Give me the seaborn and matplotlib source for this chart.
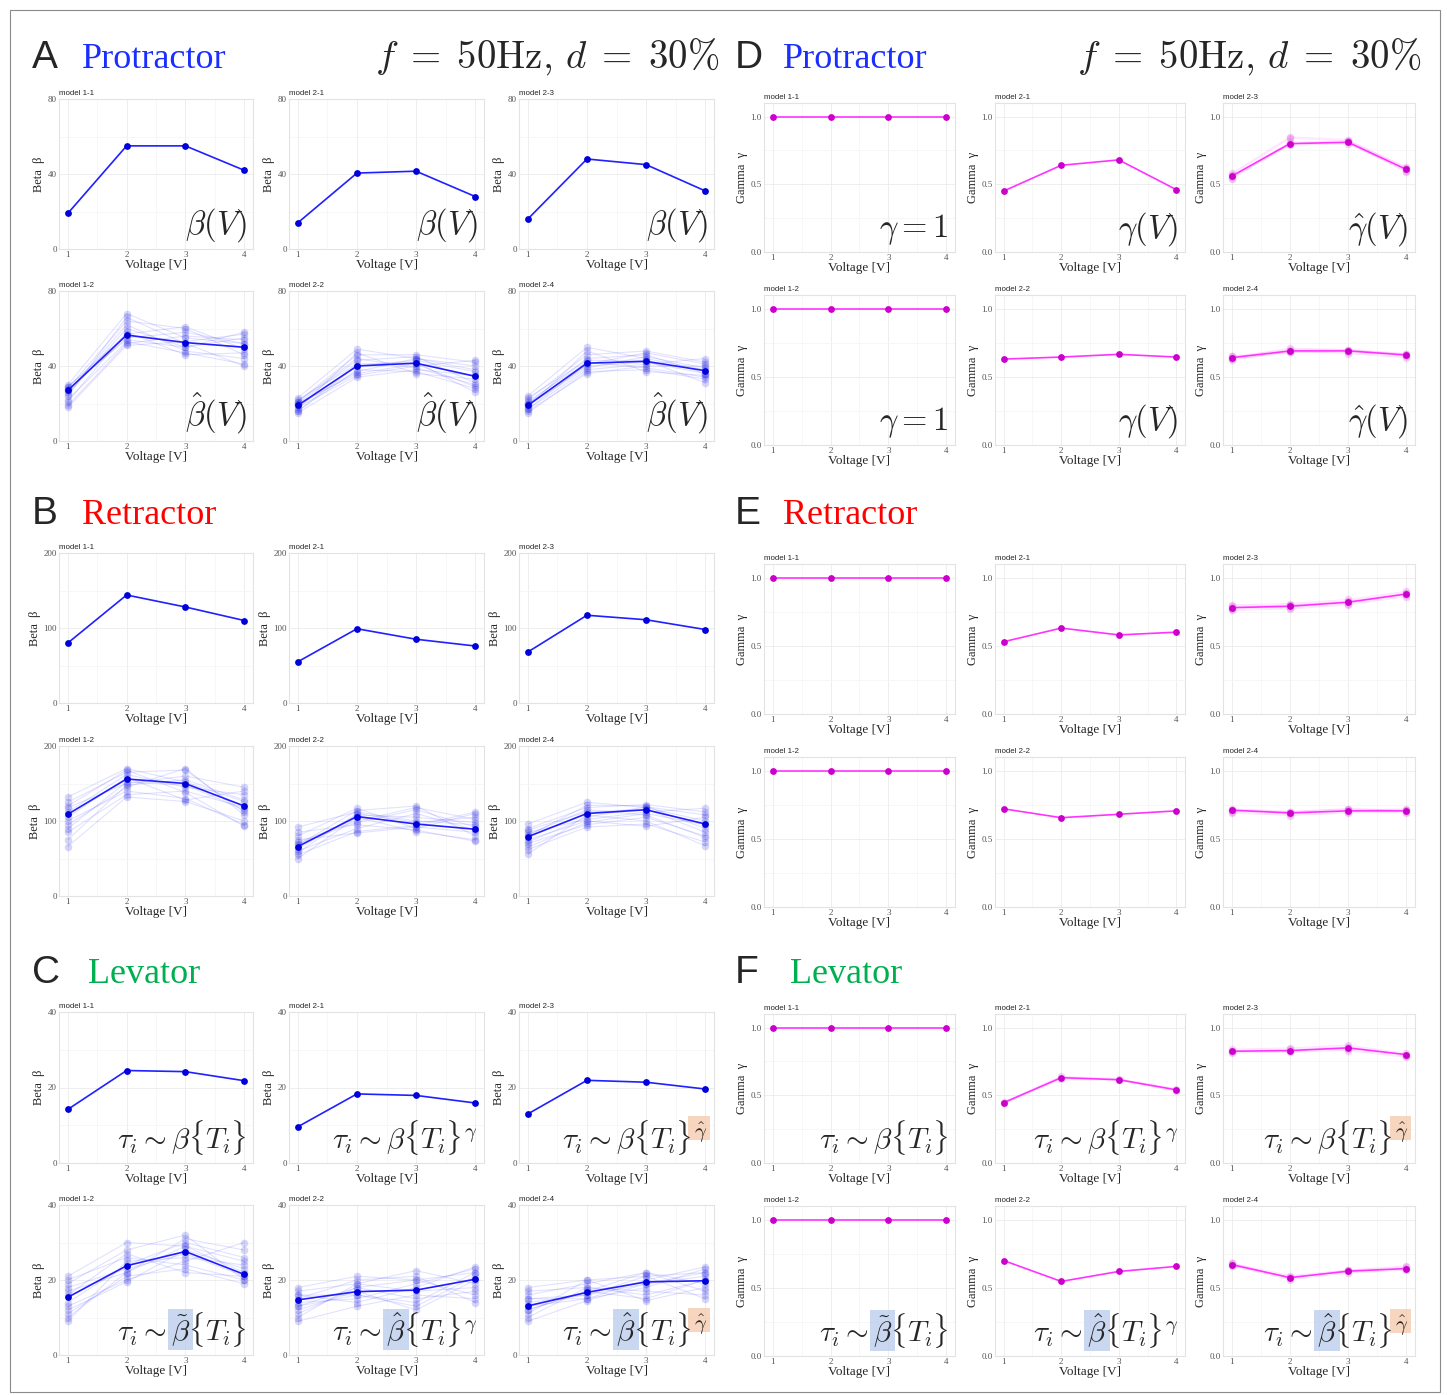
import matplotlib
matplotlib.use('Agg')
import numpy as np
import pandas as pd
import matplotlib.pyplot as plt
import seaborn as sns
from matplotlib.patches import Rectangle

sns.set_theme(style='white')
plt.rcParams['font.family'] = ['Liberation Serif', 'DejaVu Serif']
plt.rcParams['mathtext.fontset'] = 'cm'

voltage = [1, 2, 3, 4]

# ===== Protractor: beta =====
pro_b_11 = [19, 55, 55, 42]
pro_b_21 = [14, 40.5, 41.5, 28]
pro_b_23 = [16, 48, 45, 31]
pro_b_12 = [27, 56.5, 52.5, 50]
pro_b_22 = [19, 40, 41.5, 34.5]
pro_b_24 = [19, 41.5, 42.5, 37.5]
pro_b_12_s = [[30, 68, 55, 52], [28, 64, 60, 46], [25, 60, 50, 58], [22, 53, 47, 41],
              [19, 52, 56, 54], [29, 57, 61, 49], [26, 62, 48, 44], [18, 51, 53, 57],
              [24, 66, 52, 40], [27, 55, 58, 52], [21, 58, 46, 47], [29, 54, 50, 55]]
pro_b_22_s = [[23, 49, 44, 38], [21, 46, 46, 42], [18, 35, 40, 43], [16, 38, 37, 28],
              [20, 43, 45, 31], [15, 34, 38, 35], [22, 41, 42, 26], [17, 47, 36, 33],
              [19, 37, 44, 40], [21, 44, 39, 30], [16, 40, 43, 37], [20, 36, 41, 29]]
pro_b_24_s = [[24, 50, 44, 38], [22, 46, 48, 42], [17, 38, 41, 44], [15, 37, 38, 33],
              [20, 44, 46, 36], [16, 36, 40, 40], [23, 43, 43, 31], [18, 48, 37, 35],
              [19, 39, 45, 39], [21, 42, 39, 34], [17, 41, 47, 41], [20, 40, 42, 36]]

# ===== Retractor: beta =====
ret_b_11 = [80, 144, 128, 110]
ret_b_21 = [55, 99, 85, 76]
ret_b_23 = [68, 117, 111, 98]
ret_b_12 = [109, 156, 150, 120]
ret_b_22 = [66, 106, 96, 89]
ret_b_24 = [79, 110, 115, 96]
ret_b_12_s = [[132, 170, 152, 126], [125, 165, 168, 112], [118, 150, 160, 145], [100, 140, 130, 95],
              [85, 135, 140, 118], [66, 132, 126, 100], [112, 162, 145, 135], [95, 145, 170, 108],
              [120, 168, 138, 93], [75, 148, 155, 128], [105, 158, 128, 140], [90, 152, 148, 115]]
ret_b_22_s = [[92, 112, 100, 95], [80, 117, 90, 110], [72, 100, 118, 102], [60, 90, 110, 88],
              [55, 86, 94, 112], [50, 105, 86, 75], [68, 114, 120, 80], [85, 95, 88, 73],
              [63, 108, 105, 98], [75, 84, 92, 85], [58, 110, 98, 105], [70, 98, 115, 92]]
ret_b_24_s = [[96, 125, 118, 100], [90, 118, 122, 112], [85, 102, 112, 117], [70, 95, 105, 80],
              [62, 92, 96, 72], [56, 108, 100, 67], [80, 121, 120, 90], [75, 100, 93, 105],
              [88, 112, 116, 85], [65, 98, 110, 95], [82, 115, 108, 78], [72, 105, 119, 108]]

# ===== Levator: beta =====
lev_b_11 = [14.2, 24.5, 24.2, 21.8]
lev_b_21 = [9.6, 18.3, 17.9, 15.9]
lev_b_23 = [13, 21.9, 21.4, 19.6]
lev_b_12 = [15.4, 23.8, 27.6, 21.5]
lev_b_22 = [14.7, 16.9, 17.3, 20.2]
lev_b_24 = [13.1, 16.7, 19.5, 19.8]
lev_b_12_s = [[21, 30, 29, 22], [19, 28, 32, 20], [17, 22, 31, 28], [13, 20, 25, 30],
              [11, 21, 23, 19], [9, 25, 26, 24], [16, 27, 22, 21], [14, 24, 30, 26],
              [20, 26, 24, 20], [12, 19.5, 28, 23], [18, 23, 27, 21], [10, 22, 29, 25]]
lev_b_22_s = [[18, 21, 20, 22], [17, 19, 22.5, 19], [16, 14, 18, 23.5], [13, 16, 13, 21],
              [11, 18, 15, 17], [9, 13, 16, 15], [15, 20, 21, 14], [12, 17, 12, 20],
              [14, 15, 19, 23], [10, 19, 17, 18], [16, 16, 14, 22], [13, 18, 20, 16]]
lev_b_24_s = [[18, 20, 21, 22], [16, 19, 22, 19], [15, 15, 20, 23.5], [12, 17, 15, 20],
              [10, 18, 17, 16], [9, 14.5, 19, 21], [14, 16, 21, 15], [11, 20, 14.5, 18],
              [13, 15, 18, 23], [17, 18, 16, 20], [12, 17, 22, 17], [15, 16, 19, 22]]

# ===== gamma =====
pro_g_11 = [1.0, 1.0, 1.0, 1.0]
pro_g_21 = [0.45, 0.64, 0.68, 0.46]
pro_g_23 = [0.56, 0.80, 0.81, 0.61]
pro_g_12 = [1.0, 1.0, 1.0, 1.0]
pro_g_22 = [0.63, 0.645, 0.665, 0.645]
pro_g_24 = [0.64, 0.69, 0.69, 0.66]
pro_g_23_s = [[0.58, 0.85, 0.83, 0.62], [0.57, 0.84, 0.82, 0.63], [0.55, 0.79, 0.80, 0.60],
              [0.56, 0.81, 0.82, 0.61], [0.54, 0.80, 0.81, 0.59]]
pro_g_24_s = [[0.65, 0.70, 0.70, 0.67], [0.63, 0.68, 0.68, 0.65], [0.64, 0.71, 0.70, 0.66],
              [0.62, 0.69, 0.67, 0.64], [0.65, 0.68, 0.69, 0.67]]

ret_g_11 = [1.0, 1.0, 1.0, 1.0]
ret_g_21 = [0.53, 0.63, 0.58, 0.60]
ret_g_23 = [0.78, 0.79, 0.82, 0.88]
ret_g_12 = [1.0, 1.0, 1.0, 1.0]
ret_g_22 = [0.72, 0.655, 0.68, 0.705]
ret_g_24 = [0.71, 0.69, 0.705, 0.705]
ret_g_23_s = [[0.80, 0.81, 0.84, 0.90], [0.76, 0.77, 0.80, 0.86], [0.79, 0.80, 0.83, 0.89],
              [0.77, 0.78, 0.81, 0.87], [0.78, 0.80, 0.82, 0.88]]
ret_g_24_s = [[0.72, 0.70, 0.72, 0.71], [0.69, 0.67, 0.69, 0.69], [0.71, 0.69, 0.71, 0.72],
              [0.70, 0.68, 0.70, 0.70], [0.71, 0.70, 0.72, 0.71]]

lev_g_11 = [1.0, 1.0, 1.0, 1.0]
lev_g_21 = [0.445, 0.63, 0.615, 0.54]
lev_g_23 = [0.825, 0.83, 0.85, 0.80]
lev_g_12 = [1.0, 1.0, 1.0, 1.0]
lev_g_22 = [0.70, 0.547, 0.62, 0.657]
lev_g_24 = [0.67, 0.575, 0.622, 0.641]
lev_g_21_s = [[0.45, 0.64, 0.62, 0.55], [0.44, 0.62, 0.61, 0.53]]
lev_g_23_s = [[0.84, 0.85, 0.87, 0.81], [0.81, 0.82, 0.83, 0.78],
              [0.83, 0.84, 0.86, 0.80], [0.82, 0.83, 0.84, 0.79]]
lev_g_24_s = [[0.68, 0.59, 0.63, 0.65], [0.66, 0.56, 0.61, 0.63],
              [0.67, 0.58, 0.62, 0.64], [0.68, 0.57, 0.63, 0.66]]

titles = [['model 1-1', 'model 2-1', 'model 2-3'], ['model 1-2', 'model 2-2', 'model 2-4']]

# ===== layout (pixels) =====
W, H = 1447, 1395
fig = plt.figure(figsize=(W / 100, H / 100), dpi=100)
fig.patch.set_facecolor('white')
renderer = fig.canvas.get_renderer()

left_cols = [(59, 253), (289, 484), (519, 714)]
right_cols = [(764, 955), (995, 1185), (1223, 1415)]
left_rows = [(99, 249), (291, 441), (553, 703), (746, 896), (1012, 1163), (1205, 1355)]
right_rows = [(103, 252), (295, 445), (564, 714), (757, 907), (1014, 1163), (1206, 1356)]

BLUE_L, BLUE_P = '#2020ff', '#0000dd'
MAG_L, MAG_P = '#ff33ff', '#cc00cc'
HL_BLUE = (0.72, 0.80, 0.92, 0.75)
HL_ORANGE = (0.96, 0.78, 0.66, 0.75)
FS_TAU = 21
FS_FUN = 23.5


def make_ax(col, row):
    l, r = col
    t, b = row
    return fig.add_axes([l / W, 1 - b / H, (r - l) / W, (b - t) / H])


def long_df(samples):
    rows = []
    for i, s in enumerate(samples):
        for v, y in zip(voltage, s):
            rows.append((i, v, y))
    return pd.DataFrame(rows, columns=['sample', 'V', 'val'])


def style_ax(ax, kind, ymax, title):
    ax.set_xlim(0.85, 4.15)
    ax.set_xticks(voltage)
    ax.set_xticks([1.5, 2.5, 3.5], minor=True)
    if kind == 'beta':
        ax.set_ylim(0, ymax)
        ax.set_yticks([0, ymax / 2, ymax])
        ax.set_yticklabels([str(int(v)) for v in [0, ymax / 2, ymax]])
        ax.set_yticks([ymax / 4, 3 * ymax / 4], minor=True)
        ax.set_ylabel('Beta  β', fontsize=9, labelpad=2)
    else:
        ax.set_ylim(0, 1.1)
        ax.set_yticks([0, 0.5, 1.0])
        ax.set_yticklabels(['0.0', '0.5', '1.0'])
        ax.set_yticks([0.25, 0.75], minor=True)
        ax.set_ylabel('Gamma  γ', fontsize=9, labelpad=2)
    ax.set_xticklabels([str(v) for v in voltage])
    ax.set_xlabel('Voltage [V]', fontsize=9.5, labelpad=0)
    ax.tick_params(which='both', length=0, labelsize=6.5, labelcolor='#555555', pad=1.5)
    ax.grid(True, which='major', color='#ebebeb', lw=0.6)
    ax.grid(True, which='minor', color='#f4f4f4', lw=0.5)
    ax.set_axisbelow(True)
    for sp in ax.spines.values():
        sp.set_visible(True)
        sp.set_color('#e3e3e3')
        sp.set_linewidth(0.8)
    ax.text(0, 1.015, title, transform=ax.transAxes, fontsize=5.7,
            family='Liberation Sans', ha='left', va='bottom')


def text_width(s, fs):
    tmp = fig.text(0, 0, s, fontsize=fs)
    w = tmp.get_window_extent(renderer).width
    tmp.remove()
    return w


def add_formula(ax, pieces, hls):
    full = '$' + ''.join(pieces) + '$'
    fs = FS_TAU if len(pieces) > 1 else FS_FUN
    t = ax.text(0.965, 0.1, full, transform=ax.transAxes, ha='right', va='baseline',
                fontsize=fs, zorder=6)
    if not any(c is not None for c in hls):
        return
    bb = t.get_window_extent(renderer)
    inv = ax.transAxes.inverted()
    for k, (p, c) in enumerate(zip(pieces, hls)):
        if c is None:
            continue
        right = text_width('$' + ''.join(pieces[:k + 1]) + '$', fs)
        if p.startswith('^'):
            left = text_width('$' + ''.join(pieces[:k]) + '$', fs)
            y0, y1 = bb.y0 + 0.42 * bb.height, bb.y1 + 2
        else:
            left = right - text_width('$' + p + '$', fs)
            y0, y1 = bb.y0 - 1, bb.y1 + 1
        ax0, ay0 = inv.transform((bb.x0 + left - 3, y0))
        ax1, ay1 = inv.transform((bb.x0 + right + 3, y1))
        ax.add_patch(Rectangle((ax0, ay0), ax1 - ax0, ay1 - ay0, transform=ax.transAxes,
                               facecolor=c, edgecolor='none', zorder=5, clip_on=False))


def plot_cell(ax, mean, samples, kind):
    lc, pc = (BLUE_L, BLUE_P) if kind == 'beta' else (MAG_L, MAG_P)
    if samples is not None:
        df = long_df(samples)
        sns.lineplot(data=df, x='V', y='val', units='sample', estimator=None, color=lc,
                     alpha=0.13, lw=0.8, ax=ax, legend=False)
        sns.scatterplot(data=df, x='V', y='val', color=pc, alpha=0.16, s=30,
                        linewidth=0, ax=ax, legend=False, zorder=3)
    sns.lineplot(x=voltage, y=mean, color=lc, lw=1.2, ax=ax, zorder=4)
    sns.scatterplot(x=voltage, y=mean, color=pc, s=24, linewidth=0, ax=ax, zorder=4)


# formulas
f_beta = [[[r'\beta(V)']] * 3, [[r'\hat{\beta}(V)']] * 3]
f_gamma = [[[r'\gamma = 1'], [r'\gamma(V)'], [r'\hat{\gamma}(V)']]] * 2
f_tau = [[[r'\tau_i \sim ', r'\beta', r'\{T_i\}'],
          [r'\tau_i \sim ', r'\beta', r'\{T_i\}^{\gamma}'],
          [r'\tau_i \sim ', r'\beta', r'\{T_i\}', r'^{\hat{\gamma}}']],
         [[r'\tau_i \sim ', r'\tilde{\beta}', r'\{T_i\}'],
          [r'\tau_i \sim ', r'\hat{\beta}', r'\{T_i\}^{\gamma}'],
          [r'\tau_i \sim ', r'\hat{\beta}', r'\{T_i\}', r'^{\hat{\gamma}}']]]
h_tau = [[[None] * 3, [None] * 3, [None, None, None, HL_ORANGE]],
         [[None, HL_BLUE, None], [None, HL_BLUE, None], [None, HL_BLUE, None, HL_ORANGE]]]

panels = [
    ('beta', left_cols, left_rows[0:2], 80,
     [[pro_b_11, pro_b_21, pro_b_23], [pro_b_12, pro_b_22, pro_b_24]],
     [[None, None, None], [pro_b_12_s, pro_b_22_s, pro_b_24_s]], f_beta, None),
    ('beta', left_cols, left_rows[2:4], 200,
     [[ret_b_11, ret_b_21, ret_b_23], [ret_b_12, ret_b_22, ret_b_24]],
     [[None, None, None], [ret_b_12_s, ret_b_22_s, ret_b_24_s]], None, None),
    ('beta', left_cols, left_rows[4:6], 40,
     [[lev_b_11, lev_b_21, lev_b_23], [lev_b_12, lev_b_22, lev_b_24]],
     [[None, None, None], [lev_b_12_s, lev_b_22_s, lev_b_24_s]], f_tau, h_tau),
    ('gamma', right_cols, right_rows[0:2], None,
     [[pro_g_11, pro_g_21, pro_g_23], [pro_g_12, pro_g_22, pro_g_24]],
     [[None, None, pro_g_23_s], [None, None, pro_g_24_s]], f_gamma, None),
    ('gamma', right_cols, right_rows[2:4], None,
     [[ret_g_11, ret_g_21, ret_g_23], [ret_g_12, ret_g_22, ret_g_24]],
     [[None, None, ret_g_23_s], [None, None, ret_g_24_s]], None, None),
    ('gamma', right_cols, right_rows[4:6], None,
     [[lev_g_11, lev_g_21, lev_g_23], [lev_g_12, lev_g_22, lev_g_24]],
     [[None, lev_g_21_s, lev_g_23_s], [None, None, lev_g_24_s]], f_tau, h_tau),
]

for kind, cols, rows, ymax, means, samples, forms, hls in panels:
    for r in range(2):
        for c in range(3):
            ax = make_ax(cols[c], rows[r])
            plot_cell(ax, means[r][c], samples[r][c], kind)
            style_ax(ax, kind, ymax, titles[r][c])
            if forms is not None:
                hl = hls[r][c] if hls is not None else [None] * len(forms[r][c])
                add_formula(ax, forms[r][c], hl)

# ===== panel headers =====
headers = [('A', 'Protractor', '#1a2eff', 32, 82, 68), ('B', 'Retractor', '#ff0000', 32, 82, 524),
           ('C', 'Levator', '#00b050', 32, 88, 983), ('D', 'Protractor', '#1a2eff', 735, 783, 68),
           ('E', 'Retractor', '#ff0000', 735, 783, 524), ('F', 'Levator', '#00b050', 735, 790, 983)]
for letter, name, col, xl, xn, yb in headers:
    fig.text(xl / W, 1 - yb / H, letter, fontsize=28, family='Liberation Sans',
             ha='left', va='baseline')
    fig.text(xn / W, 1 - yb / H, name, fontsize=26, color=col, ha='left', va='baseline')

for xr in (720, 1422):
    fig.text(xr / W, 1 - 68 / H, r'$f\;=\;50\mathrm{Hz},\,d\;=\;30\%$', fontsize=28,
             ha='right', va='baseline')

fig.add_artist(Rectangle((10 / W, 1 - 1392 / H), 1430 / W, 1382 / H, transform=fig.transFigure,
                         fill=False, edgecolor='#8a8a8a', lw=0.8))

plt.savefig('out.png', dpi=100)
